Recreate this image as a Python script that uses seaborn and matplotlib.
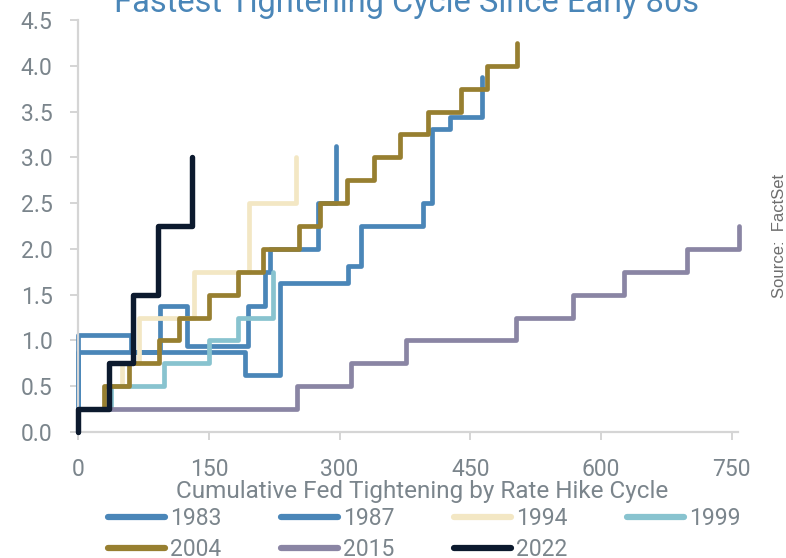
import matplotlib
matplotlib.use("Agg")
import matplotlib.pyplot as plt
from matplotlib.lines import Line2D
import seaborn as sns
import pandas as pd

# ---- data (trading days since first hike, cumulative tightening in %) ----
cycles = ["1983", "1987", "1994", "1999", "2004", "2015", "2022"]

days_1983 = [0, 0, 61, 94, 125, 195, 214, 220, 275, 296]
rate_1983 = [0, 1.0625, 0.875, 1.375, 0.9375, 1.375, 1.75, 2.0, 2.5, 3.125]

days_1987 = [0, 0, 191, 232, 310, 325, 396, 406, 427, 464]
rate_1987 = [0, 0.875, 0.625, 1.625, 1.8125, 2.25, 2.5, 3.3125, 3.4375, 3.875]

days_1994 = [0, 0, 31, 50, 70, 133, 196, 250]
rate_1994 = [0, 0.25, 0.5, 0.75, 1.25, 1.75, 2.5, 3.0]

days_1999 = [0, 0, 38, 98, 150, 183, 223]
rate_1999 = [0, 0.25, 0.5, 0.75, 1.0, 1.25, 1.75]

days_2004 = [0, 0, 29, 58, 93, 116, 150, 183, 212, 253, 278, 309, 339, 369, 401, 439, 469, 504]
rate_2004 = [0, 0.25, 0.5, 0.75, 1.0, 1.25, 1.5, 1.75, 2.0, 2.25, 2.5, 2.75, 3.0, 3.25, 3.5, 3.75, 4.0, 4.25]

days_2015 = [0, 0, 251, 313, 376, 503, 568, 626, 699, 758]
rate_2015 = [0, 0.25, 0.5, 0.75, 1.0, 1.25, 1.5, 1.75, 2.0, 2.25]

days_2022 = [0, 0, 35, 63, 92, 131]
rate_2022 = [0, 0.25, 0.75, 1.5, 2.25, 3.0]

x_ticks = [0, 150, 300, 450, 600, 750]
y_ticks = [0.0, 0.5, 1.0, 1.5, 2.0, 2.5, 3.0, 3.5, 4.0, 4.5]

colors = {
    "1983": "#4a86b8",
    "1987": "#4a86b8",
    "1994": "#f3e7c4",
    "1999": "#88c3cf",
    "2004": "#977f30",
    "2015": "#8a85a4",
    "2022": "#0c1a2e",
}

series = {
    "1983": (days_1983, rate_1983),
    "1987": (days_1987, rate_1987),
    "1994": (days_1994, rate_1994),
    "1999": (days_1999, rate_1999),
    "2004": (days_2004, rate_2004),
    "2015": (days_2015, rate_2015),
    "2022": (days_2022, rate_2022),
}

rows = []
for c in cycles:
    d, r = series[c]
    for i, (xx, yy) in enumerate(zip(d, r)):
        rows.append({"cycle": c, "day": xx, "rate": yy, "order": i})
df = pd.DataFrame(rows)

sns.set_theme(style="white")
plt.rcParams["font.family"] = ["Roboto", "DejaVu Sans"]

fig = plt.figure(figsize=(7.86, 5.58), dpi=100)
ax = fig.add_axes([78.3 / 786, 1 - 432 / 558, (737.7 - 78.3) / 786, (432 - 20) / 558])

sns.lineplot(data=df, x="day", y="rate", hue="cycle", hue_order=cycles,
             palette=colors, estimator=None, sort=False, units="cycle",
             drawstyle="steps-post", linewidth=3.4, legend=False, ax=ax)

for ln, c in zip(ax.get_lines(), cycles):
    ln.set_solid_joinstyle("round")
    ln.set_solid_capstyle("round")
    ln.set_clip_on(False)
    if c == "2022":
        ln.set_linewidth(3.9)
        ln.set_zorder(5)

ax.set_xlim(0, 757)
ax.set_ylim(0, 4.5)
ax.set_xticks(x_ticks)
ax.set_yticks(y_ticks)
ax.set_xticklabels([str(v) for v in x_ticks])
ax.set_yticklabels([f"{v:.1f}" for v in y_ticks])
ax.set_xlabel("")
ax.set_ylabel("")

grey = "#7b858c"
spine_c = "#d5d5d5"
for s in ["top", "right"]:
    ax.spines[s].set_visible(False)
for s in ["left", "bottom"]:
    ax.spines[s].set_color(spine_c)
    ax.spines[s].set_linewidth(1.6)
ax.tick_params(axis="both", which="major", length=6, width=1.4, color=spine_c,
               labelsize=16.5, labelcolor=grey)
ax.tick_params(axis="y", pad=12.5, left=True)
ax.tick_params(axis="x", pad=13, bottom=True)

fig.text(406 / 786, 1 - 12 / 558, "Fastest Tightening Cycle Since Early 80s",
         ha="center", va="baseline", fontsize=23.5, color="#4a86b8")

fig.text(422 / 786, 1 - 498 / 558, "Cumulative Fed Tightening by Rate Hike Cycle",
         ha="center", va="baseline", fontsize=17.5, color=grey)

fig.text(780 / 786, 1 - 236 / 558, "Source:  FactSet", rotation=90,
         ha="center", va="center", fontsize=12, color="#6e6e6e",
         family=["Liberation Sans", "DejaVu Sans"])

order = ["1983", "2004", "1987", "2015", "1994", "2022", "1999"]
handles = [Line2D([0], [0], color=colors[c], lw=4.5, solid_capstyle="round") for c in order]
leg = fig.legend(handles, order, loc="center left",
                 bbox_to_anchor=(108 / 786, 1 - 534 / 558), ncol=4, frameon=False,
                 fontsize=16.5, handlelength=2.5, handletextpad=0.2,
                 columnspacing=2.6, labelspacing=0.38, borderpad=0, borderaxespad=0)
for t in leg.get_texts():
    t.set_color(grey)

fig.savefig("out.png", dpi=100)
